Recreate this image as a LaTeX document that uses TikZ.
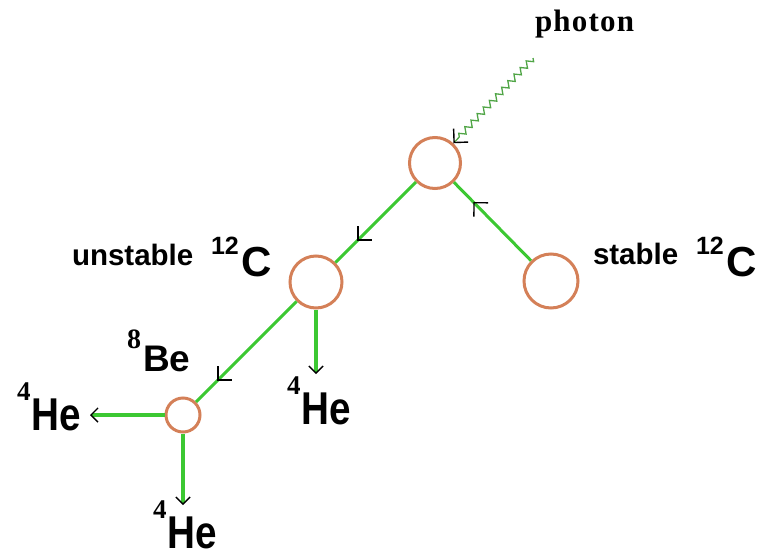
\documentclass[tikz,border=0pt]{standalone}
\usepackage{fontspec}
\setmainfont{Liberation Serif}
\newfontfamily\sansfam{Liberation Sans}
\newfontfamily\narrowfam[FakeStretch=0.84]{Liberation Sans}
\newfontfamily\photonfam[LetterSpace=4]{Liberation Serif}
\usetikzlibrary{arrows.meta,decorations.pathmorphing,decorations.markings}
\definecolor{linegreen}{RGB}{60,200,50}
\definecolor{photongreen}{RGB}{80,165,70}
\definecolor{ringcol}{RGB}{212,128,88}
\newcommand\carbonlab{{\sansfam\bfseries\fontsize{25}{25}\selectfont\raisebox{22pt}{12}}\hspace{3pt}{\sansfam\bfseries\fontsize{42}{42}\selectfont C}}
\newcommand\heliumlab{\raisebox{0pt}[\height][0pt]{{\bfseries\fontsize{27}{27}\selectfont\raisebox{30pt}{4}}\hspace{1pt}{\narrowfam\bfseries\fontsize{46}{46}\selectfont He}}}
\newcommand\berylliumlab{{\bfseries\fontsize{28}{28}\selectfont\raisebox{23pt}{8}}\hspace{2pt}{\sansfam\bfseries\fontsize{37}{37}\selectfont Be}}
\begin{document}
\begin{tikzpicture}[x=1pt,y=-1pt,
  nucleus/.style={circle, draw=ringcol, line width=3pt, minimum size=#1, inner sep=0pt},
  flow/.style={draw=linegreen, line width=3pt, postaction={decorate},
    decoration={markings, mark=at position #1 with {\arrow{Straight Barb[angle=90:14pt, line width=1.4pt, color=black]}}}},
  decay/.style={draw=linegreen, line width=3.5pt, -{Straight Barb[angle=90:10pt, line width=1.3pt, color=black]}},
  photonline/.style={draw=photongreen, line width=1.3pt, decorate,
    decoration={zigzag, amplitude=3pt, segment length=9pt, post length=6pt},
    -{Straight Barb[angle=90:14pt, line width=1.4pt, color=black]}},
  lab/.style={anchor=base west, inner sep=0pt, outer sep=0pt},
]
\useasboundingbox (0,0) rectangle (763,557);

% nuclei
\node[nucleus=51pt] (top)  at (435,163) {};
\node[nucleus=52pt] (unst) at (316,282) {};
\node[nucleus=54pt] (stab) at (551,281) {};
\node[nucleus=34pt] (be)   at (183,415) {};

% free ends
\coordinate (ph)    at (533,58);
\coordinate (he1end) at (90,415);
\coordinate (he2end) at (316,374);
\coordinate (he3end) at (183,505);

% connectors
\draw[photonline] (ph) -- (top);
\draw[flow=0.73] (top) -- (unst);
\draw[flow=0.75] (stab) -- (top);
\draw[flow=0.79] (unst) -- (be);
\draw[decay] (unst) -- (he2end);
\draw[decay] (be) -- (he1end);
\draw[decay] (be) -- (he3end);

% labels
\node[lab] (phlab) at (535,31) {\photonfam\bfseries\fontsize{31}{31}\selectfont photon};
\node[lab] (unlab) at (72,265) {\sansfam\bfseries\fontsize{29.5}{29.5}\selectfont unstable};
\node[lab] (unc)   at (211,276) {\carbonlab};
\node[lab] (stlab) at (593,264) {\sansfam\bfseries\fontsize{29.5}{29.5}\selectfont stable};
\node[lab] (stc)   at (696,276) {\carbonlab};
\node[lab] (belab) at (127,371) {\berylliumlab};
\node[lab] (he1)   at (17,430) {\heliumlab};
\node[lab] (he2)   at (287,424) {\heliumlab};
\node[lab] (he3)   at (153,548) {\heliumlab};
\end{tikzpicture}
\end{document}
